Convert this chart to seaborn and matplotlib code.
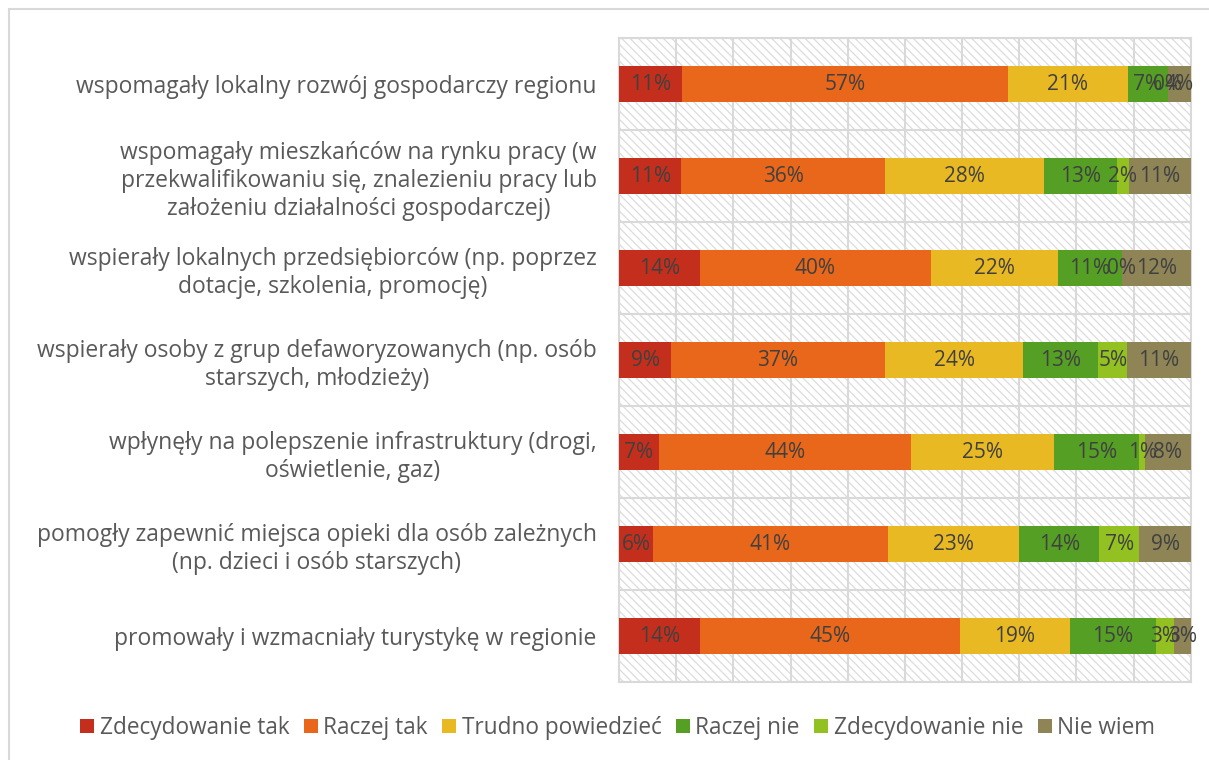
import numpy as np
import pandas as pd
import matplotlib.pyplot as plt
import seaborn as sns
from matplotlib.patches import Rectangle, Patch
from matplotlib.lines import Line2D

# -------------------------------------------------------
# Data
# -------------------------------------------------------
categories = [
    "wspomagały lokalny rozwój gospodarczy regionu",
    "wspomagały mieszkańców na rynku pracy (w\nprzekwalifikowaniu się, znalezieniu pracy lub\nzałożeniu działalności gospodarczej)",
    "wspierały lokalnych przedsiębiorców (np. poprzez\ndotacje, szkolenia, promocję)",
    "wspierały osoby z grup defaworyzowanych (np. osób\nstarszych, młodzieży)",
    "wpłynęły na polepszenie infrastruktury (drogi,\noświetlenie, gaz)",
    "pomogły zapewnić miejsca opieki dla osób zależnych\n(np. dzieci i osób starszych)",
    "promowały i wzmacniały turystykę w regionie",
]
answers = ["Zdecydowanie tak", "Raczej tak", "Trudno powiedzieć",
           "Raczej nie", "Zdecydowanie nie", "Nie wiem"]

zdecydowanie_tak = [11, 11, 14, 9, 7, 6, 14]
raczej_tak = [57, 36, 40, 37, 44, 41, 45]
trudno = [21, 28, 22, 24, 25, 23, 19]
raczej_nie = [7, 13, 11, 13, 15, 14, 15]
zdecydowanie_nie = [0, 2, 0, 5, 1, 7, 3]
nie_wiem = [4, 11, 12, 11, 8, 9, 3]

colors = ["#C42E1C", "#E8671A", "#E8B923", "#55A024", "#92C121", "#8E8456"]

df = pd.DataFrame(
    [zdecydowanie_tak, raczej_tak, trudno, raczej_nie, zdecydowanie_nie, nie_wiem],
    index=answers, columns=categories).T

# 100% stacked
share = df.div(df.sum(axis=1), axis=0) * 100
cum = share.cumsum(axis=1)

# -------------------------------------------------------
# Plot
# -------------------------------------------------------
sns.set_theme(style="white")
plt.rcParams["font.family"] = ["Open Sans", "DejaVu Sans"]
plt.rcParams["hatch.linewidth"] = 0.9
plt.rcParams["hatch.color"] = "#dcdcdc"

fig = plt.figure(figsize=(12.09, 7.60), dpi=100)
ax = fig.add_axes([0.512, 0.1026, 0.473, 0.847])

# hatched background
ax.add_patch(Rectangle((0, 0), 1, 1, transform=ax.transAxes, facecolor="white",
                       edgecolor="#dcdcdc", hatch="\\\\\\\\", linewidth=0, zorder=0))

# draw cumulative bars from the last segment to the first
for ans, col in reversed(list(zip(answers, colors))):
    sns.barplot(x=cum[ans].values, y=categories, color=col, orient="h",
                width=0.39, ax=ax, saturation=1, linewidth=0, zorder=3)

# value labels
for i, cat in enumerate(categories):
    for ans in answers:
        xc = cum.loc[cat, ans] - share.loc[cat, ans] / 2
        ax.text(xc, i, f"{df.loc[cat, ans]}%", ha="center", va="center",
                fontsize=15, color="#404040", zorder=5)

ax.set_xlim(0, 100)
ax.set_ylim(len(categories) - 0.5, -0.5)
for xv in np.arange(0, 101, 10):
    ax.axvline(xv, color="#d9d9d9", lw=1.5, zorder=1)
for yv in np.arange(-0.5, len(categories), 1):
    ax.axhline(yv, color="#d9d9d9", lw=1.5, zorder=1)
for s in ax.spines.values():
    s.set_color("#d9d9d9")
    s.set_linewidth(1.5)

ax.set_xticks([])
ax.set_xlabel("")
ax.set_ylabel("")
ax.tick_params(axis="y", length=0, pad=16)
ax.set_yticks(range(len(categories)))
ax.set_yticklabels(categories, fontsize=16.5, color="#595959",
                   multialignment="center", linespacing=1.2)

handles = [Patch(facecolor=c, edgecolor="none") for c in colors]
fig.legend(handles, answers, loc="center", bbox_to_anchor=(0.511, 0.042),
           ncol=6, frameon=False, fontsize=16.3, handlelength=0.6,
           handleheight=0.6, handletextpad=0.25, columnspacing=0.65,
           labelcolor="#595959")

# outer chart border (top and left visible)
fig.add_artist(Line2D([9 / 1209, 1], [1 - 9 / 760, 1 - 9 / 760], color="#d9d9d9", lw=1.5))
fig.add_artist(Line2D([9 / 1209, 9 / 1209], [0, 1 - 9 / 760], color="#d9d9d9", lw=1.5))

plt.savefig("out.png", dpi=100)
plt.close()
